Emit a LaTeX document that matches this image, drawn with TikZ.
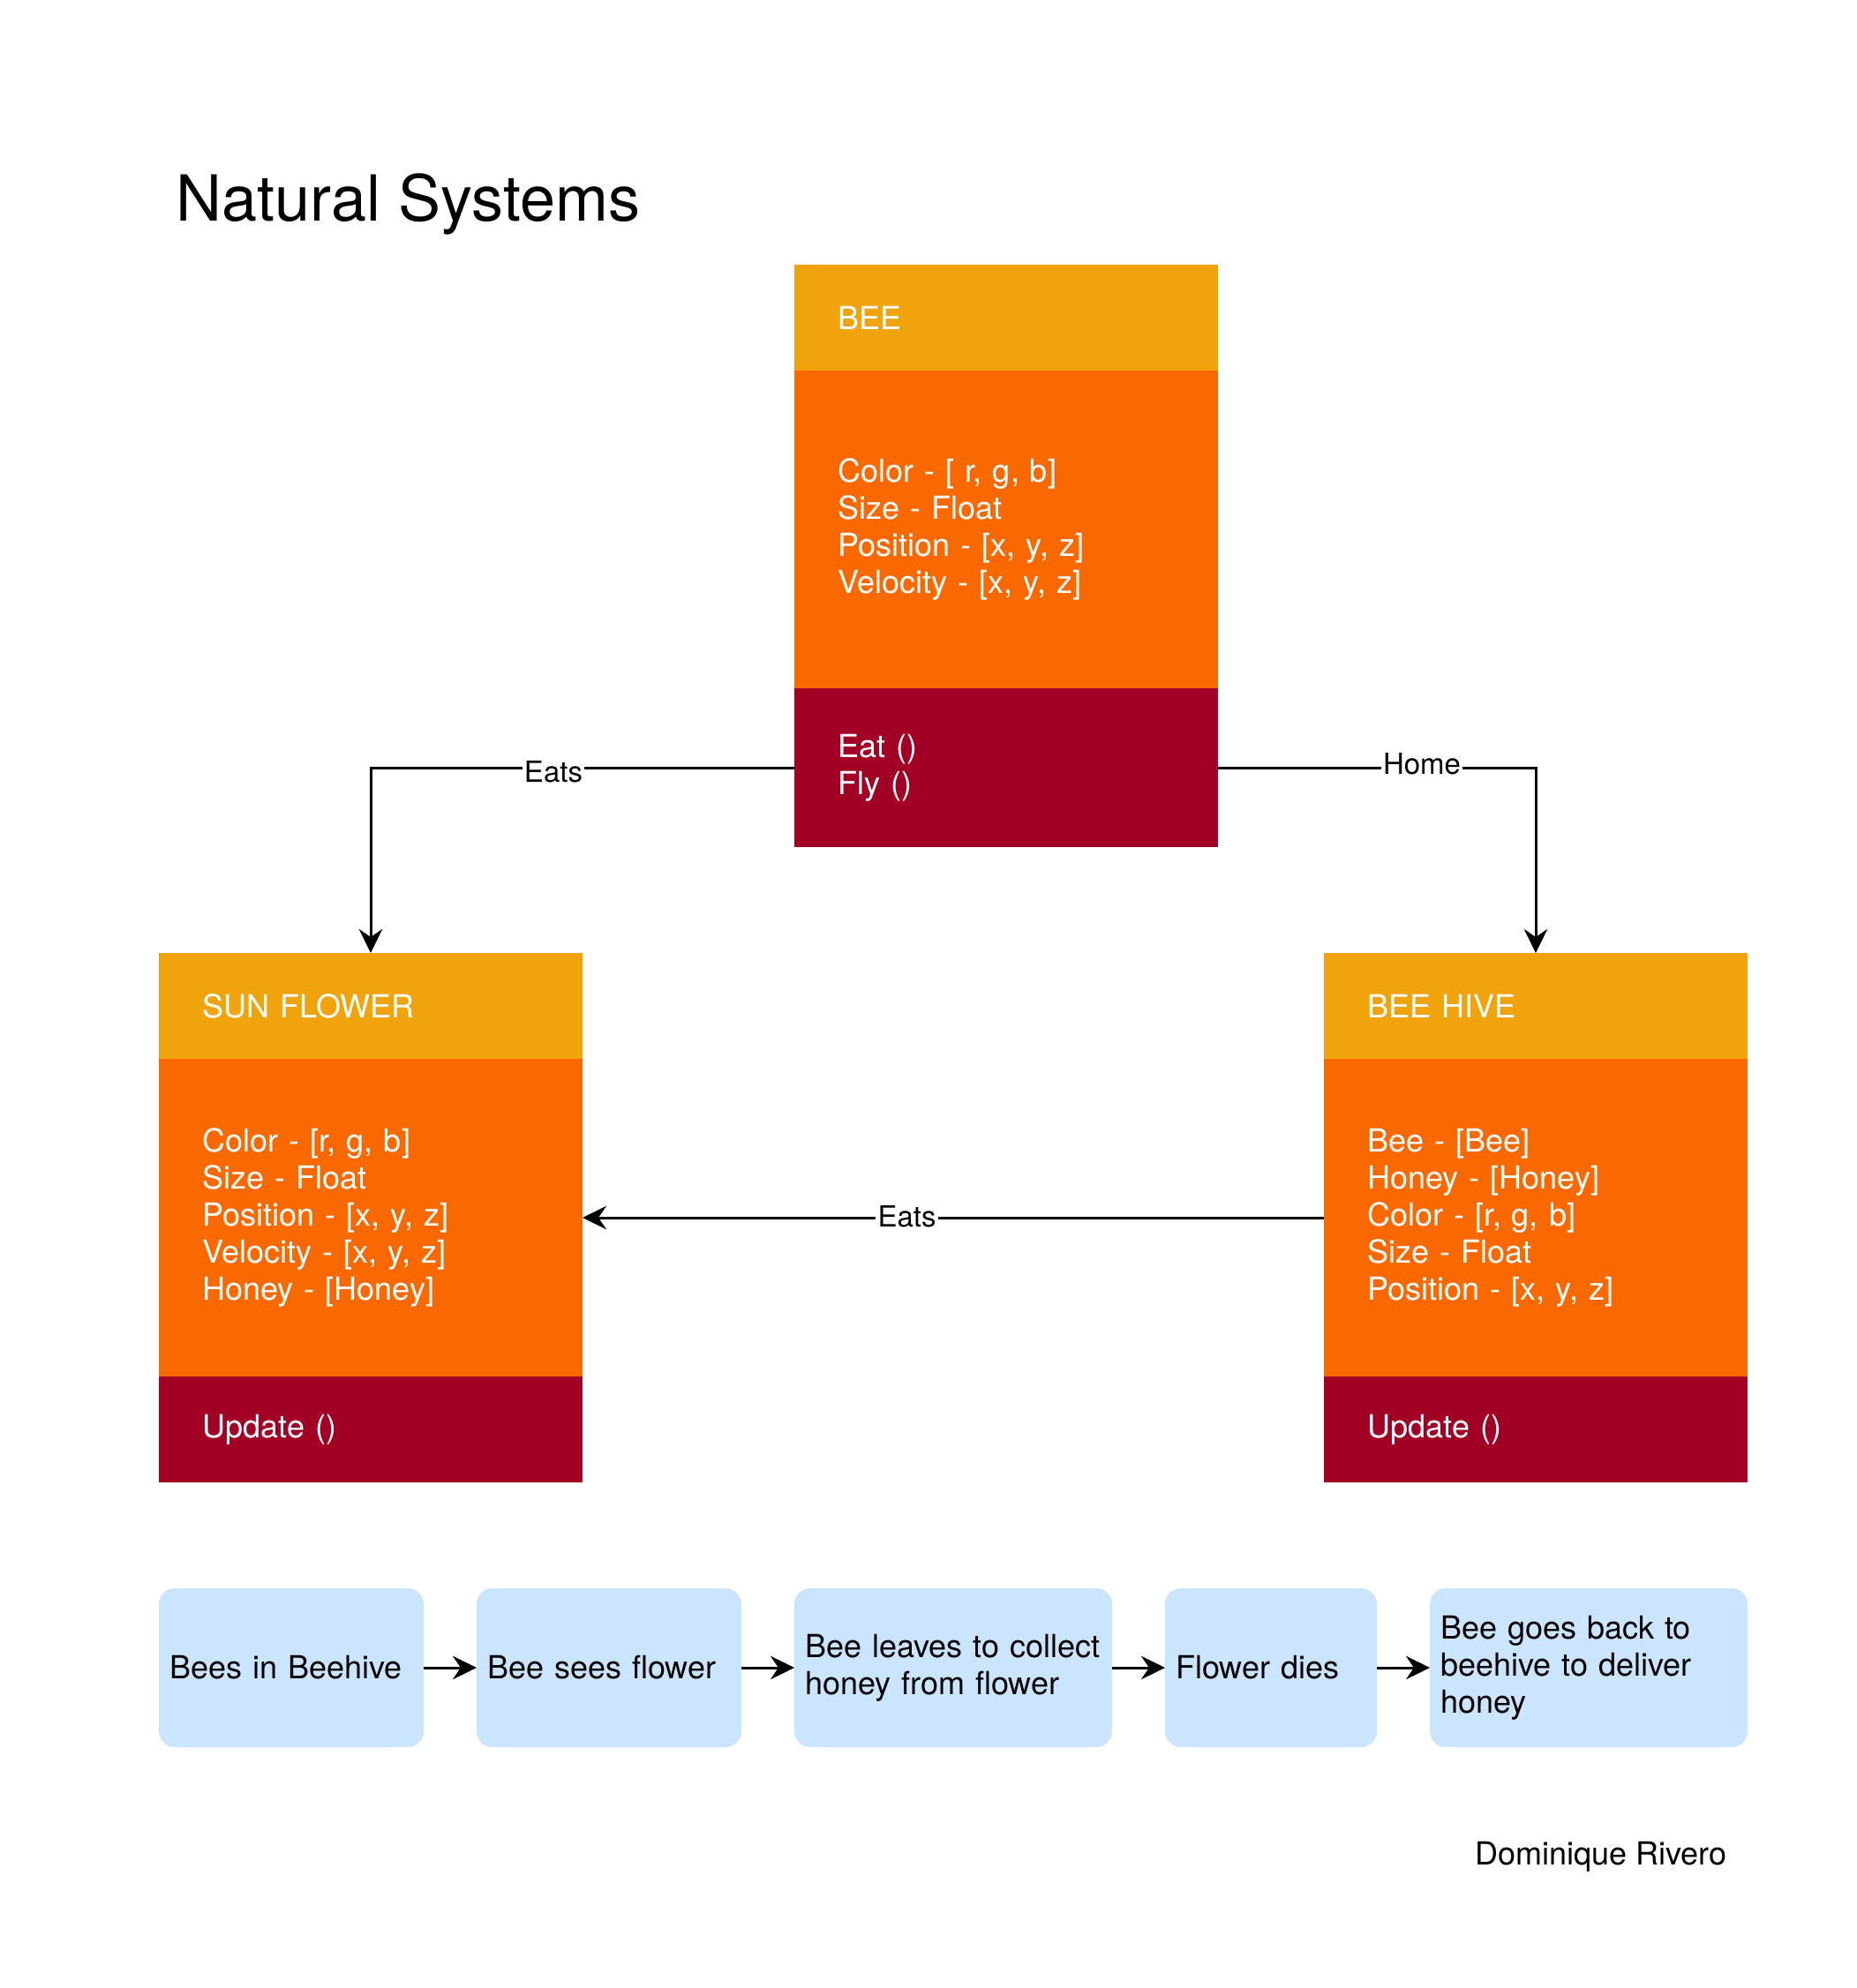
\documentclass[tikz,border=0pt]{standalone}
\usepackage{fontspec}
\setmainfont{TeX Gyre Heros}
\usetikzlibrary{arrows.meta}
\definecolor{hdr}{HTML}{F0A30A}
\definecolor{att}{HTML}{FA6800}
\definecolor{mth}{HTML}{A20025}
\definecolor{flowblue}{HTML}{CCE5FF}
\begin{document}
\begin{tikzpicture}[x=1pt,y=-1pt,
  sec/.style={rectangle, draw=none, inner xsep=16.5pt, inner ysep=0pt, text width=127pt,
    minimum width=160pt, align=left, text=white, font=\fontsize{12}{14}\selectfont,
    anchor=north west, outer sep=0pt},
  hdrsec/.style={sec, fill=hdr, minimum height=40pt},
  attsec/.style={sec, fill=att, minimum height=120pt},
  mthsec/.style={sec, fill=mth},
  edge/.style={draw=black, line width=1pt, -{Stealth[length=9pt,width=8.8pt,inset=3pt]}},
  lbl/.style={fill=white, inner sep=0.8pt, font=\fontsize{11}{13}\selectfont, text=black},
  flow/.style={rectangle, fill=flowblue, rounded corners=6pt, minimum height=60pt,
    inner xsep=4pt, inner ysep=0pt, align=left, anchor=north west,
    font=\fontsize{12}{14}\selectfont, outer sep=0pt},
  plain/.style={inner sep=0pt, anchor=base west, text=black}
]
\fill[white] (0,0) rectangle (701,751);
\useasboundingbox (0,0) rectangle (701,751);

% title
\node[plain, font=\fontsize{24}{29}\selectfont] (title) at (66.4,83.6) {Natural Systems};

% BEE
\node[hdrsec] (beeH) at (300,100) {BEE};
\node[attsec] (beeA) at (300,140) {Color - [ r, g, b]\\Size - Float\\Position - [x, y, z]\\Velocity - [x, y, z]};
\node[mthsec, minimum height=60pt] (beeM) at (300,260) {Eat ()\\Fly ()};

% SUN FLOWER
\node[hdrsec] (sfH) at (60,360) {SUN FLOWER};
\node[attsec] (sfA) at (60,400) {Color - [r, g, b]\\Size - Float\\Position - [x, y, z]\\Velocity - [x, y, z]\\Honey - [Honey]};
\node[mthsec, minimum height=40pt] (sfM) at (60,520) {Update ()};

% BEE HIVE
\node[hdrsec] (bhH) at (500,360) {BEE HIVE};
\node[attsec] (bhA) at (500,400) {Bee - [Bee]\\Honey - [Honey]\\Color - [r, g, b]\\Size - Float\\Position - [x, y, z]};
\node[mthsec, minimum height=40pt] (bhM) at (500,520) {Update ()};

% relations
\draw[edge] (beeM.west) -| (sfH.north);
\node[lbl] (l1) at (209,291.6) {Eats};
\draw[edge] (beeM.east) -| (bhH.north);
\node[lbl] (l2) at (537,288.5) {Home};
\draw[edge] (bhA.west) -- (sfA.east);
\node[lbl] (l3) at (342.5,459.5) {Eats};

% flow
\node[flow, text width=92pt, minimum width=100pt] (f1) at (60,600) {Bees in Beehive};
\node[flow, text width=92pt, minimum width=100pt] (f2) at (180,600) {Bee sees flower};
\node[flow, text width=112pt, minimum width=120pt] (f3) at (300,600) {Bee leaves to collect\\honey from flower};
\node[flow, text width=72pt, minimum width=80pt] (f4) at (440,600) {Flower dies};
\node[flow, text width=112pt, minimum width=120pt] (f5) at (540,600) {Bee goes back to\\beehive to deliver\\honey};
\draw[edge] (f1.east) -- (f2.west);
\draw[edge] (f2.east) -- (f3.west);
\draw[edge] (f3.east) -- (f4.west);
\draw[edge] (f4.east) -- (f5.west);

% author
\node[plain, font=\fontsize{12}{14}\selectfont] (author) at (556.8,704.5) {Dominique Rivero};
\end{tikzpicture}
\end{document}
